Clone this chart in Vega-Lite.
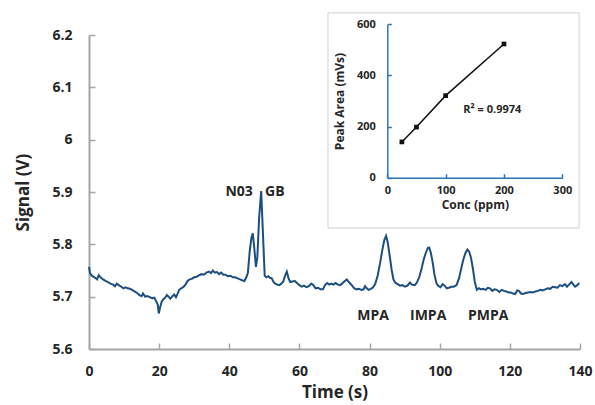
{
  "$schema": "https://vega.github.io/schema/vega-lite/v6.json",
  "width": 491,
  "height": 314,
  "autosize": {"type": "none"},
  "padding": {"left": 89, "top": 35, "right": 15, "bottom": 56},
  "config": {"view": {"stroke": null}, "font": "Open Sans", "axis": {"grid": false, "labelFlush": false}},
  "datasets": {
    "trace": [
      {"t":0,"v":5.757},{"t":0.3,"v":5.745},{"t":0.8,"v":5.74},{"t":1.3,"v":5.738},{"t":1.8,"v":5.736},{"t":2.3,"v":5.733},{"t":2.8,"v":5.741},{"t":3.3,"v":5.737},{"t":4.0,"v":5.733},{"t":4.7,"v":5.73},{"t":5.4,"v":5.728},{"t":6.1,"v":5.725},{"t":6.9,"v":5.723},{"t":7.4,"v":5.72},{"t":7.9,"v":5.725},{"t":8.5,"v":5.722},{"t":9.2,"v":5.719},{"t":9.8,"v":5.716},{"t":10.4,"v":5.718},{"t":11.0,"v":5.716},{"t":11.7,"v":5.715},{"t":12.5,"v":5.712},{"t":13.2,"v":5.709},{"t":13.9,"v":5.706},{"t":14.4,"v":5.703},{"t":15.0,"v":5.701},{"t":15.4,"v":5.706},{"t":16.0,"v":5.7},{"t":16.6,"v":5.701},{"t":17.3,"v":5.699},{"t":18.0,"v":5.697},{"t":18.6,"v":5.698},{"t":19.1,"v":5.692},{"t":19.6,"v":5.685},{"t":19.9,"v":5.668},{"t":20.3,"v":5.68},{"t":20.7,"v":5.69},{"t":21.2,"v":5.695},{"t":21.7,"v":5.698},{"t":22.2,"v":5.703},{"t":22.7,"v":5.7},{"t":23.2,"v":5.696},{"t":23.8,"v":5.701},{"t":24.3,"v":5.704},{"t":24.8,"v":5.699},{"t":25.2,"v":5.705},{"t":25.7,"v":5.713},{"t":26.3,"v":5.716},{"t":27.0,"v":5.719},{"t":27.6,"v":5.724},{"t":28.1,"v":5.73},{"t":28.7,"v":5.733},{"t":29.3,"v":5.734},{"t":30.0,"v":5.737},{"t":30.7,"v":5.738},{"t":31.4,"v":5.741},{"t":32.1,"v":5.743},{"t":32.8,"v":5.742},{"t":33.5,"v":5.746},{"t":34.2,"v":5.748},{"t":34.8,"v":5.745},{"t":35.3,"v":5.75},{"t":35.9,"v":5.746},{"t":36.5,"v":5.747},{"t":37.1,"v":5.743},{"t":37.7,"v":5.746},{"t":38.3,"v":5.742},{"t":38.9,"v":5.742},{"t":39.6,"v":5.739},{"t":40.3,"v":5.74},{"t":41.0,"v":5.737},{"t":41.7,"v":5.737},{"t":42.4,"v":5.735},{"t":43.1,"v":5.733},{"t":43.8,"v":5.731},{"t":44.3,"v":5.73},{"t":44.8,"v":5.736},{"t":45.3,"v":5.745},{"t":45.8,"v":5.785},{"t":46.3,"v":5.812},{"t":46.7,"v":5.821},{"t":47.1,"v":5.795},{"t":47.6,"v":5.757},{"t":48.0,"v":5.775},{"t":48.5,"v":5.85},{"t":49.1,"v":5.902},{"t":49.6,"v":5.82},{"t":50.1,"v":5.74},{"t":50.6,"v":5.737},{"t":51.1,"v":5.739},{"t":51.6,"v":5.736},{"t":52.1,"v":5.735},{"t":52.6,"v":5.728},{"t":53.1,"v":5.725},{"t":53.7,"v":5.723},{"t":54.3,"v":5.722},{"t":54.9,"v":5.725},{"t":55.4,"v":5.729},{"t":55.9,"v":5.74},{"t":56.4,"v":5.748},{"t":56.9,"v":5.735},{"t":57.4,"v":5.728},{"t":58.0,"v":5.729},{"t":58.7,"v":5.73},{"t":59.3,"v":5.726},{"t":60.0,"v":5.722},{"t":60.6,"v":5.719},{"t":61.3,"v":5.721},{"t":62.0,"v":5.718},{"t":62.7,"v":5.72},{"t":63.4,"v":5.725},{"t":64.0,"v":5.722},{"t":64.6,"v":5.716},{"t":65.3,"v":5.717},{"t":66.0,"v":5.714},{"t":66.7,"v":5.714},{"t":67.3,"v":5.722},{"t":67.9,"v":5.726},{"t":68.5,"v":5.723},{"t":69.1,"v":5.725},{"t":69.7,"v":5.723},{"t":70.3,"v":5.726},{"t":71.0,"v":5.723},{"t":71.6,"v":5.722},{"t":72.2,"v":5.725},{"t":72.8,"v":5.729},{"t":73.5,"v":5.733},{"t":74.1,"v":5.728},{"t":74.9,"v":5.722},{"t":75.6,"v":5.716},{"t":76.3,"v":5.714},{"t":77.0,"v":5.715},{"t":77.7,"v":5.713},{"t":78.3,"v":5.714},{"t":78.7,"v":5.72},{"t":79.2,"v":5.716},{"t":79.7,"v":5.713},{"t":80.4,"v":5.715},{"t":81.0,"v":5.718},{"t":81.6,"v":5.724},{"t":82.3,"v":5.74},{"t":83.0,"v":5.764},{"t":83.6,"v":5.788},{"t":84.2,"v":5.808},{"t":84.7,"v":5.816},{"t":85.2,"v":5.803},{"t":85.8,"v":5.775},{"t":86.3,"v":5.751},{"t":86.8,"v":5.733},{"t":87.3,"v":5.727},{"t":88.0,"v":5.724},{"t":88.7,"v":5.721},{"t":89.4,"v":5.722},{"t":90.1,"v":5.719},{"t":90.8,"v":5.721},{"t":91.5,"v":5.727},{"t":92.1,"v":5.723},{"t":92.9,"v":5.722},{"t":93.5,"v":5.727},{"t":94.2,"v":5.738},{"t":94.8,"v":5.753},{"t":95.4,"v":5.77},{"t":96.0,"v":5.783},{"t":96.6,"v":5.793},{"t":97.0,"v":5.794},{"t":97.5,"v":5.783},{"t":98.0,"v":5.765},{"t":98.5,"v":5.742},{"t":99.1,"v":5.725},{"t":99.7,"v":5.72},{"t":100.2,"v":5.718},{"t":100.8,"v":5.724},{"t":101.4,"v":5.721},{"t":102.0,"v":5.716},{"t":102.6,"v":5.717},{"t":103.3,"v":5.719},{"t":104.0,"v":5.719},{"t":104.8,"v":5.722},{"t":105.5,"v":5.735},{"t":106.1,"v":5.753},{"t":106.7,"v":5.77},{"t":107.3,"v":5.783},{"t":107.9,"v":5.79},{"t":108.4,"v":5.786},{"t":108.9,"v":5.775},{"t":109.5,"v":5.752},{"t":110.0,"v":5.728},{"t":110.6,"v":5.713},{"t":111.2,"v":5.716},{"t":111.8,"v":5.714},{"t":112.4,"v":5.715},{"t":113.1,"v":5.713},{"t":113.7,"v":5.717},{"t":114.3,"v":5.716},{"t":115.0,"v":5.711},{"t":115.6,"v":5.714},{"t":116.3,"v":5.713},{"t":117.0,"v":5.709},{"t":117.7,"v":5.713},{"t":118.3,"v":5.711},{"t":119.0,"v":5.71},{"t":119.6,"v":5.708},{"t":120.3,"v":5.708},{"t":120.9,"v":5.706},{"t":121.5,"v":5.705},{"t":122.1,"v":5.712},{"t":122.6,"v":5.711},{"t":123.2,"v":5.706},{"t":123.8,"v":5.705},{"t":124.5,"v":5.707},{"t":125.2,"v":5.708},{"t":125.9,"v":5.709},{"t":126.6,"v":5.708},{"t":127.3,"v":5.71},{"t":128.0,"v":5.711},{"t":128.7,"v":5.713},{"t":129.4,"v":5.712},{"t":130.1,"v":5.714},{"t":130.8,"v":5.716},{"t":131.5,"v":5.715},{"t":132.2,"v":5.719},{"t":132.9,"v":5.718},{"t":133.6,"v":5.717},{"t":134.3,"v":5.722},{"t":135.0,"v":5.72},{"t":135.7,"v":5.724},{"t":136.3,"v":5.719},{"t":137.0,"v":5.724},{"t":137.6,"v":5.728},{"t":138.1,"v":5.723},{"t":138.6,"v":5.719},{"t":139.2,"v":5.722},{"t":139.8,"v":5.726}
    ],
    "peaks": [
      {"label": "N03", "t": 42.8, "v": 5.9},
      {"label": "GB", "t": 53.0, "v": 5.9},
      {"label": "MPA", "t": 81.0, "v": 5.663},
      {"label": "IMPA", "t": 96.7, "v": 5.663},
      {"label": "PMPA", "t": 113.8, "v": 5.663}
    ],
    "calib": [
      {"conc": 25, "area": 140},
      {"conc": 50, "area": 198},
      {"conc": 100, "area": 321},
      {"conc": 200, "area": 523}
    ],
    "frame": [{"x1": -101.7, "x2": 328.8, "y1": 644.6, "y2": -196.9}],
    "r2": [{"conc": 180, "area": 265, "label": "R² = 0.9974"}]
  },
  "layer": [
    {
      "layer": [
        {
          "data": {"name": "trace"},
          "mark": {"type": "line", "color": "#1d4e80", "strokeWidth": 2},
          "encoding": {
            "x": {"field": "t", "type": "quantitative",
              "scale": {"domain": [0, 140], "nice": false},
              "axis": {"title": "Time (s)", "values": [0, 20, 40, 60, 80, 100, 120, 140],
                "domainColor": "#a6a6a6", "domainWidth": 2, "tickColor": "#a6a6a6", "tickWidth": 1.5, "tickSize": -6,
                "labelPadding": 21, "labelFontSize": 14, "labelFontWeight": "bold", "labelColor": "#262626",
                "titleFontSize": 17, "titleFontWeight": "bold", "titleColor": "#262626", "titlePadding": 6}},
            "y": {"field": "v", "type": "quantitative",
              "scale": {"domain": [5.6, 6.2], "nice": false, "zero": false},
              "axis": {"title": "Signal (V)", "values": [5.6, 5.7, 5.8, 5.9, 6, 6.1, 6.2], "format": "~g",
                "domainColor": "#a6a6a6", "domainWidth": 2, "tickColor": "#a6a6a6", "tickWidth": 1.5, "tickSize": -6,
                "labelPadding": 23, "labelFontSize": 14, "labelFontWeight": "bold", "labelColor": "#262626",
                "titleFontSize": 17, "titleFontWeight": "bold", "titleColor": "#262626", "titlePadding": 19}}
          }
        },
        {
          "data": {"name": "peaks"},
          "mark": {"type": "text", "fontSize": 14, "fontWeight": "bold", "color": "#262626", "font": "Open Sans"},
          "encoding": {
            "x": {"field": "t", "type": "quantitative"},
            "y": {"field": "v", "type": "quantitative"},
            "text": {"field": "label"}
          }
        }
      ]
    },
    {
      "layer": [
        {
          "data": {"name": "frame"},
          "mark": {"type": "rect", "fill": "white", "stroke": "#d0d0d0", "strokeWidth": 1},
          "encoding": {
            "x": {"field": "x1", "type": "quantitative", "scale": {"domain": [0, 300], "nice": false, "range": [298.3, 473.3]}},
            "x2": {"field": "x2"},
            "y": {"field": "y1", "type": "quantitative", "scale": {"domain": [0, 600], "nice": false, "range": [142.7, -10.7]}},
            "y2": {"field": "y2"}
          }
        },
        {
          "data": {"name": "calib"},
          "mark": {"type": "line", "color": "#111111", "strokeWidth": 1.5},
          "encoding": {
            "x": {"field": "conc", "type": "quantitative",
              "scale": {"domain": [0, 300], "nice": false, "range": [298.3, 473.3]},
              "axis": {"orient": "bottom", "offset": -171.3, "zindex": 2, "title": "Conc (ppm)", "values": [0, 100, 200, 300],
                "domainColor": "#2e75b6", "domainWidth": 1.5, "tickColor": "#2e75b6", "tickWidth": 1.5, "tickSize": -4,
                "labelPadding": 11, "labelFontSize": 11, "labelFontWeight": "bold", "labelColor": "#262626",
                "titleFontSize": 12, "titleFontWeight": "bold", "titleColor": "#262626", "titlePadding": 4}},
            "y": {"field": "area", "type": "quantitative",
              "scale": {"domain": [0, 600], "nice": false, "range": [142.7, -10.7]},
              "axis": {"orient": "left", "offset": -298.3, "zindex": 2, "title": "Peak Area (mVs)", "values": [0, 200, 400, 600],
                "domainColor": "#2e75b6", "domainWidth": 1.5, "tickColor": "#2e75b6", "tickWidth": 1.5, "tickSize": -4,
                "labelPadding": 16, "labelFontSize": 11, "labelFontWeight": "bold", "labelColor": "#262626",
                "titleFontSize": 12, "titleFontWeight": "bold", "titleColor": "#262626", "titlePadding": 10}}
          }
        },
        {
          "data": {"name": "calib"},
          "mark": {"type": "square", "color": "#111111", "size": 22, "filled": true, "opacity": 1},
          "encoding": {
            "x": {"field": "conc", "type": "quantitative"},
            "y": {"field": "area", "type": "quantitative"}
          }
        },
        {
          "data": {"name": "r2"},
          "mark": {"type": "text", "fontSize": 11, "fontWeight": "bold", "color": "#262626", "font": "Open Sans"},
          "encoding": {
            "x": {"field": "conc", "type": "quantitative"},
            "y": {"field": "area", "type": "quantitative"},
            "text": {"field": "label"}
          }
        }
      ]
    }
  ],
  "resolve": {"scale": {"x": "independent", "y": "independent"}, "axis": {"x": "independent", "y": "independent"}}
}
